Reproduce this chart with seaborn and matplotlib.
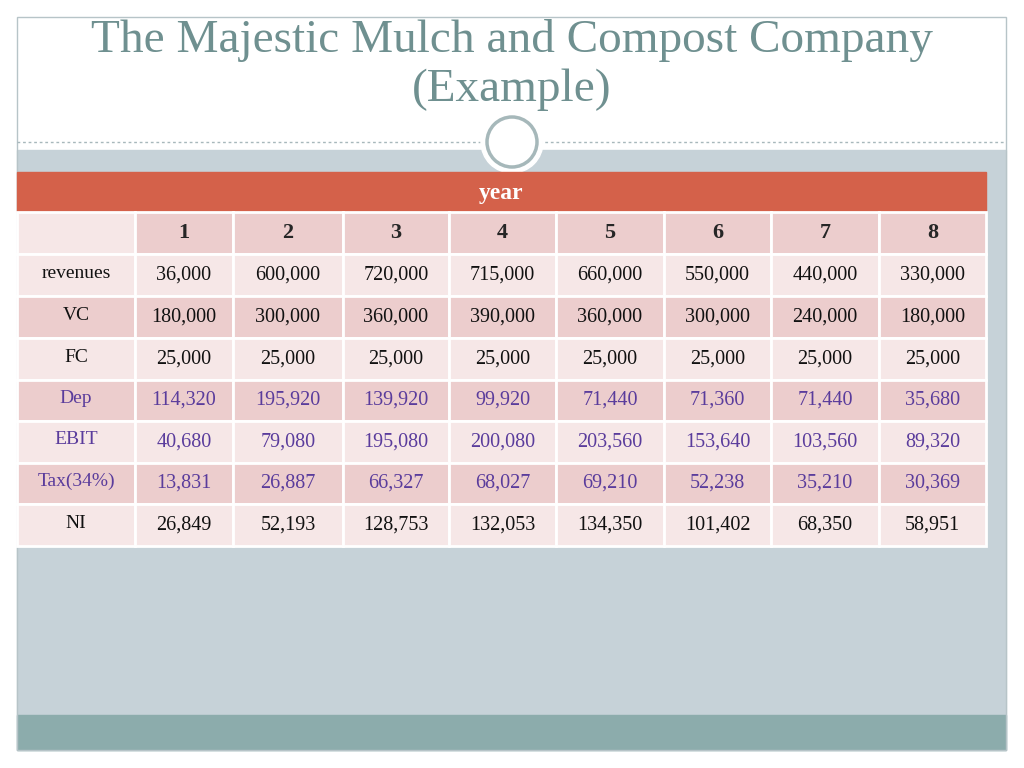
import matplotlib.pyplot as plt
import matplotlib.patches as patches
import seaborn as sns

sns.set_style("white")

# table content
years = ["1", "2", "3", "4", "5", "6", "7", "8"]
row_labels = ["revenues", "VC", "FC", "Dep", "EBIT", "Tax(34%)", "NI"]
revenues = [36000, 600000, 720000, 715000, 660000, 550000, 440000, 330000]
vc = [180000, 300000, 360000, 390000, 360000, 300000, 240000, 180000]
fc = [25000, 25000, 25000, 25000, 25000, 25000, 25000, 25000]
dep = [114320, 195920, 139920, 99920, 71440, 71360, 71440, 35680]
ebit = [40680, 79080, 195080, 200080, 203560, 153640, 103560, 89320]
tax = [13831, 26887, 66327, 68027, 69210, 52238, 35210, 30369]
ni = [26849, 52193, 128753, 132053, 134350, 101402, 68350, 58951]
rows = [revenues, vc, fc, dep, ebit, tax, ni]
purple_rows = {"Dep", "EBIT", "Tax(34%)"}

FONT = "Liberation Serif"

fig = plt.figure(figsize=(10.24, 7.68), dpi=100)
ax = fig.add_axes([0, 0, 1, 1])
ax.set_xlim(0, 1024)
ax.set_ylim(768, 0)
ax.axis("off")

# slide background
ax.add_patch(patches.Rectangle((17, 150), 989, 600, color="#c6d2d8", zorder=0))
ax.add_patch(patches.Rectangle((17, 715), 989, 35, color="#8cacac", zorder=1))
ax.add_patch(patches.Rectangle((17, 17), 989, 733, fill=False, ec="#b7c4c8", lw=1, zorder=2))
ax.plot([17, 1006], [142, 142], ls=(0, (2, 2)), color="#a8b8bc", lw=1, zorder=2)
ax.add_patch(patches.Circle((512, 142), 31, color="white", zorder=3))
ax.add_patch(patches.Circle((512, 142), 25, fill=False, ec="#a6b8ba", lw=2.5, zorder=4))

ax.text(512, 40, "The Majestic Mulch and Compost Company", ha="center", va="center",
        fontsize=34, color="#6f9090", family=FONT)
ax.text(512, 90, "(Example)", ha="center", va="center", fontsize=34, color="#6f9090", family=FONT)

# table geometry
col_x = [17, 135, 233, 343, 449, 556, 664, 771, 879, 986]
row_y = [212, 254, 296, 338, 380, 421, 463, 504, 546]
dark, light = "#eccdcd", "#f6e7e7"

ax.add_patch(patches.Rectangle((17, 172), 969, 40, color="#d4614a", zorder=5))
ax.text(501, 193, "year", ha="center", va="center", fontsize=17, weight="bold",
        color="white", family=FONT, zorder=6)

for r in range(8):
    y0, y1 = row_y[r], row_y[r + 1]
    fill = dark if r % 2 == 0 else light
    for c in range(9):
        x0, x1 = col_x[c], col_x[c + 1]
        fc_ = light if (r == 0 and c == 0) else fill
        ax.add_patch(patches.Rectangle((x0, y0), x1 - x0, y1 - y0, fc=fc_, ec="white",
                                       lw=2, zorder=5))
    cy = (y0 + y1) / 2
    if r == 0:
        for c, yr in enumerate(years):
            ax.text((col_x[c + 1] + col_x[c + 2]) / 2, cy, yr, ha="center", va="center",
                    fontsize=16, weight="bold", family=FONT, zorder=6)
        continue
    label = row_labels[r - 1]
    color = "#5a3c9c" if label in purple_rows else "#111111"
    ax.text((col_x[0] + col_x[1]) / 2, cy - 2, label, ha="center", va="center",
            fontsize=14, color=color, family=FONT, zorder=6)
    for c, v in enumerate(rows[r - 1]):
        ax.text((col_x[c + 1] + col_x[c + 2]) / 2, cy, f"{v:,}", ha="center", va="center",
                fontsize=14.5, color=color, family=FONT, zorder=6)

fig.savefig("out.png", dpi=100)
